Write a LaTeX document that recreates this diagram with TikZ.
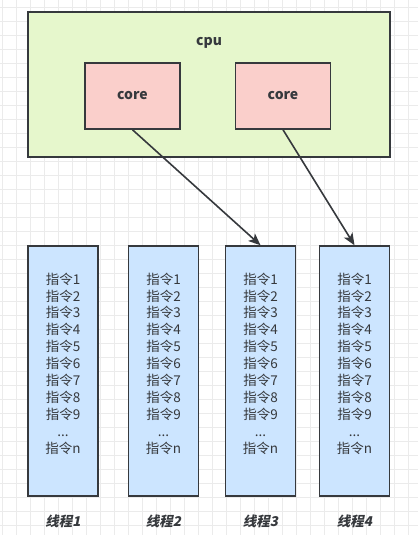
\documentclass[tikz,border=0pt]{standalone}
\usepackage{fontspec}
\setmainfont{Noto Sans CJK SC}
\newfontfamily\slfont{Noto Sans CJK SC}[FakeSlant=0.2]
\usetikzlibrary{arrows.meta}
\definecolor{cpufill}{HTML}{E6F7CC}
\definecolor{corefill}{HTML}{FACFCB}
\definecolor{thrfill}{HTML}{CCE5FF}
\definecolor{edge}{HTML}{36393D}
\definecolor{gridc}{HTML}{EBEBEB}
\begin{document}
\begin{tikzpicture}[x=1pt,y=-1pt,
  box/.style={draw=edge, line width=1.5pt, inner sep=0pt, anchor=center},
  cpubox/.style={box, fill=cpufill, minimum width=362pt, minimum height=145pt},
  corebox/.style={box, fill=corefill, minimum width=95pt, minimum height=66pt, font=\fontsize{14}{16}\selectfont\bfseries, text=edge},
  thrbox/.style={box, fill=thrfill, minimum width=70pt, minimum height=250pt},
  instr/.style={align=center, font=\fontsize{13.5}{16.9}\selectfont, text=edge},
  thrlabel/.style={font=\fontsize{13.5}{15}\selectfont\slfont\bfseries, text=edge},
  link/.style={draw=edge, line width=1.6pt, -{Stealth[length=12pt,width=10pt,inset=3pt]}}]
\useasboundingbox (0,0) rectangle (418,535);
\fill[white] (0,0) rectangle (418,535);
\foreach \i in {0,...,30} {\draw[gridc, line width=0.6pt] (2.7+14*\i,0) -- (2.7+14*\i,535);}
\foreach \i in {0,...,38} {\draw[gridc, line width=0.6pt] (0,7+14*\i) -- (418,7+14*\i);}
\node[cpubox] (cpu) at (209,84.5) {};
\node[font=\fontsize{14}{16}\selectfont\bfseries, text=edge] (cpulbl) at (209,43) {cpu};
\node[corebox] (core1) at (132.5,96) {core};
\node[corebox] (core2) at (283,96) {core};
\foreach \n/\x in {1/63,2/163.5,3/260.5,4/354.5} {
  \node[thrbox] (t\n) at (\x,371) {};
  \node[instr] (i\n) at (\x,363.5) {指令1\\指令2\\指令3\\指令4\\指令5\\指令6\\指令7\\指令8\\指令9\\...\\指令n};
  \node[thrlabel] (l\n) at (\x,521) {线程\n};
}
\draw[link] (core1.south) -- (t3.north);
\draw[link] (core2.south) -- (t4.north);
\end{tikzpicture}
\end{document}
